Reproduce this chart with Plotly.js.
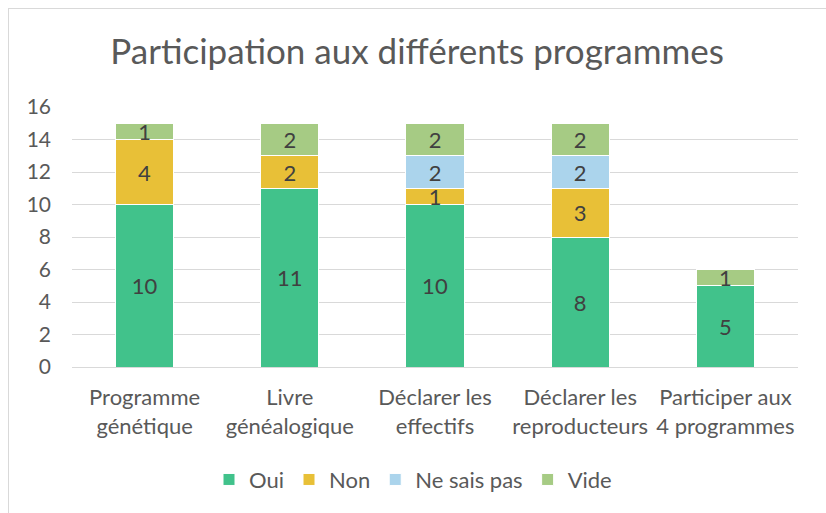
<!DOCTYPE html>
<html>
<head>
<meta charset="utf-8">
<script src="https://cdn.plot.ly/plotly-3.0.1.min.js"></script>
<style>
  html, body { margin: 0; padding: 0; background: #fff; }
  #frame { position: absolute; left: 8px; top: 8px; width: 830px; height: 520px; border: 1px solid #d9d9d9; box-sizing: border-box; pointer-events: none; }
  #chart { position: absolute; left: 0; top: 0; width: 826px; height: 513px; }
</style>
</head>
<body>
<div id="chart"></div>
<div id="frame"></div>
<script>
const categories = ["Programme<br>génétique", "Livre<br>généalogique", "Déclarer les<br>effectifs", "Déclarer les<br>reproducteurs", "Participer aux<br>4 programmes"];
const seriesNames = ["Oui", "Non", "Ne sais pas", "Vide"];
const oui = [10, 11, 10, 8, 5];
const non = [4, 2, 1, 3, 0];
const neSaisPas = [0, 0, 2, 2, 0];
const vide = [1, 2, 2, 2, 1];
const colors = ["#41C28B", "#E8C037", "#ABD4EC", "#A6CB84"];
const yTicks = [0, 2, 4, 6, 8, 10, 12, 14, 16];

const FONT = "Lato, 'Open Sans', sans-serif";
const values = [oui, non, neSaisPas, vide];
const traces = values.map((vals, i) => ({
  type: "bar",
  name: seriesNames[i],
  x: categories,
  y: vals,
  text: vals.map(v => v === 0 ? "" : String(v)),
  textposition: "inside",
  insidetextanchor: "middle",
  textangle: 0,
  constraintext: "none",
  textfont: { family: FONT, size: 22, color: "#404040" },
  marker: { color: colors[i], line: { color: "#ffffff", width: 1 } },
  hoverinfo: "none"
}));

const layout = {
  width: 826,
  height: 513,
  barmode: "stack",
  bargap: 0.6,
  paper_bgcolor: "rgba(0,0,0,0)",
  plot_bgcolor: "#ffffff",
  margin: { l: 72, r: 28, t: 107, b: 146 },
  title: {
    text: "Participation aux différents programmes",
    font: { family: FONT, size: 35, color: "#595959" },
    x: 0.505, xref: "container", xanchor: "center",
    y: 0.9, yref: "container", yanchor: "middle"
  },
  xaxis: {
    tickfont: { family: FONT, size: 22, color: "#595959" },
    showline: true, linecolor: "#d9d9d9", linewidth: 1,
    ticks: "", showgrid: false, fixedrange: true,
    ticklabelstandoff: 11
  },
  yaxis: {
    range: [0, 16],
    tickvals: yTicks,
    ticktext: yTicks.map(String),
    tickfont: { family: FONT, size: 21, color: "#595959" },
    showgrid: true, gridcolor: "#d9d9d9", gridwidth: 1,
    zeroline: false, showline: false, ticks: "",
    ticklabelstandoff: 20, fixedrange: true
  },
  showlegend: true,
  legend: {
    orientation: "h",
    x: 0.5, xanchor: "center", xref: "container",
    y: 0.065, yanchor: "middle", yref: "container",
    font: { family: FONT, size: 22, color: "#595959" },
    traceorder: "normal",
    itemwidth: 30
  }
};

Plotly.newPlot("chart", traces, layout, { displayModeBar: false, staticPlot: true });
</script>
</body>
</html>
